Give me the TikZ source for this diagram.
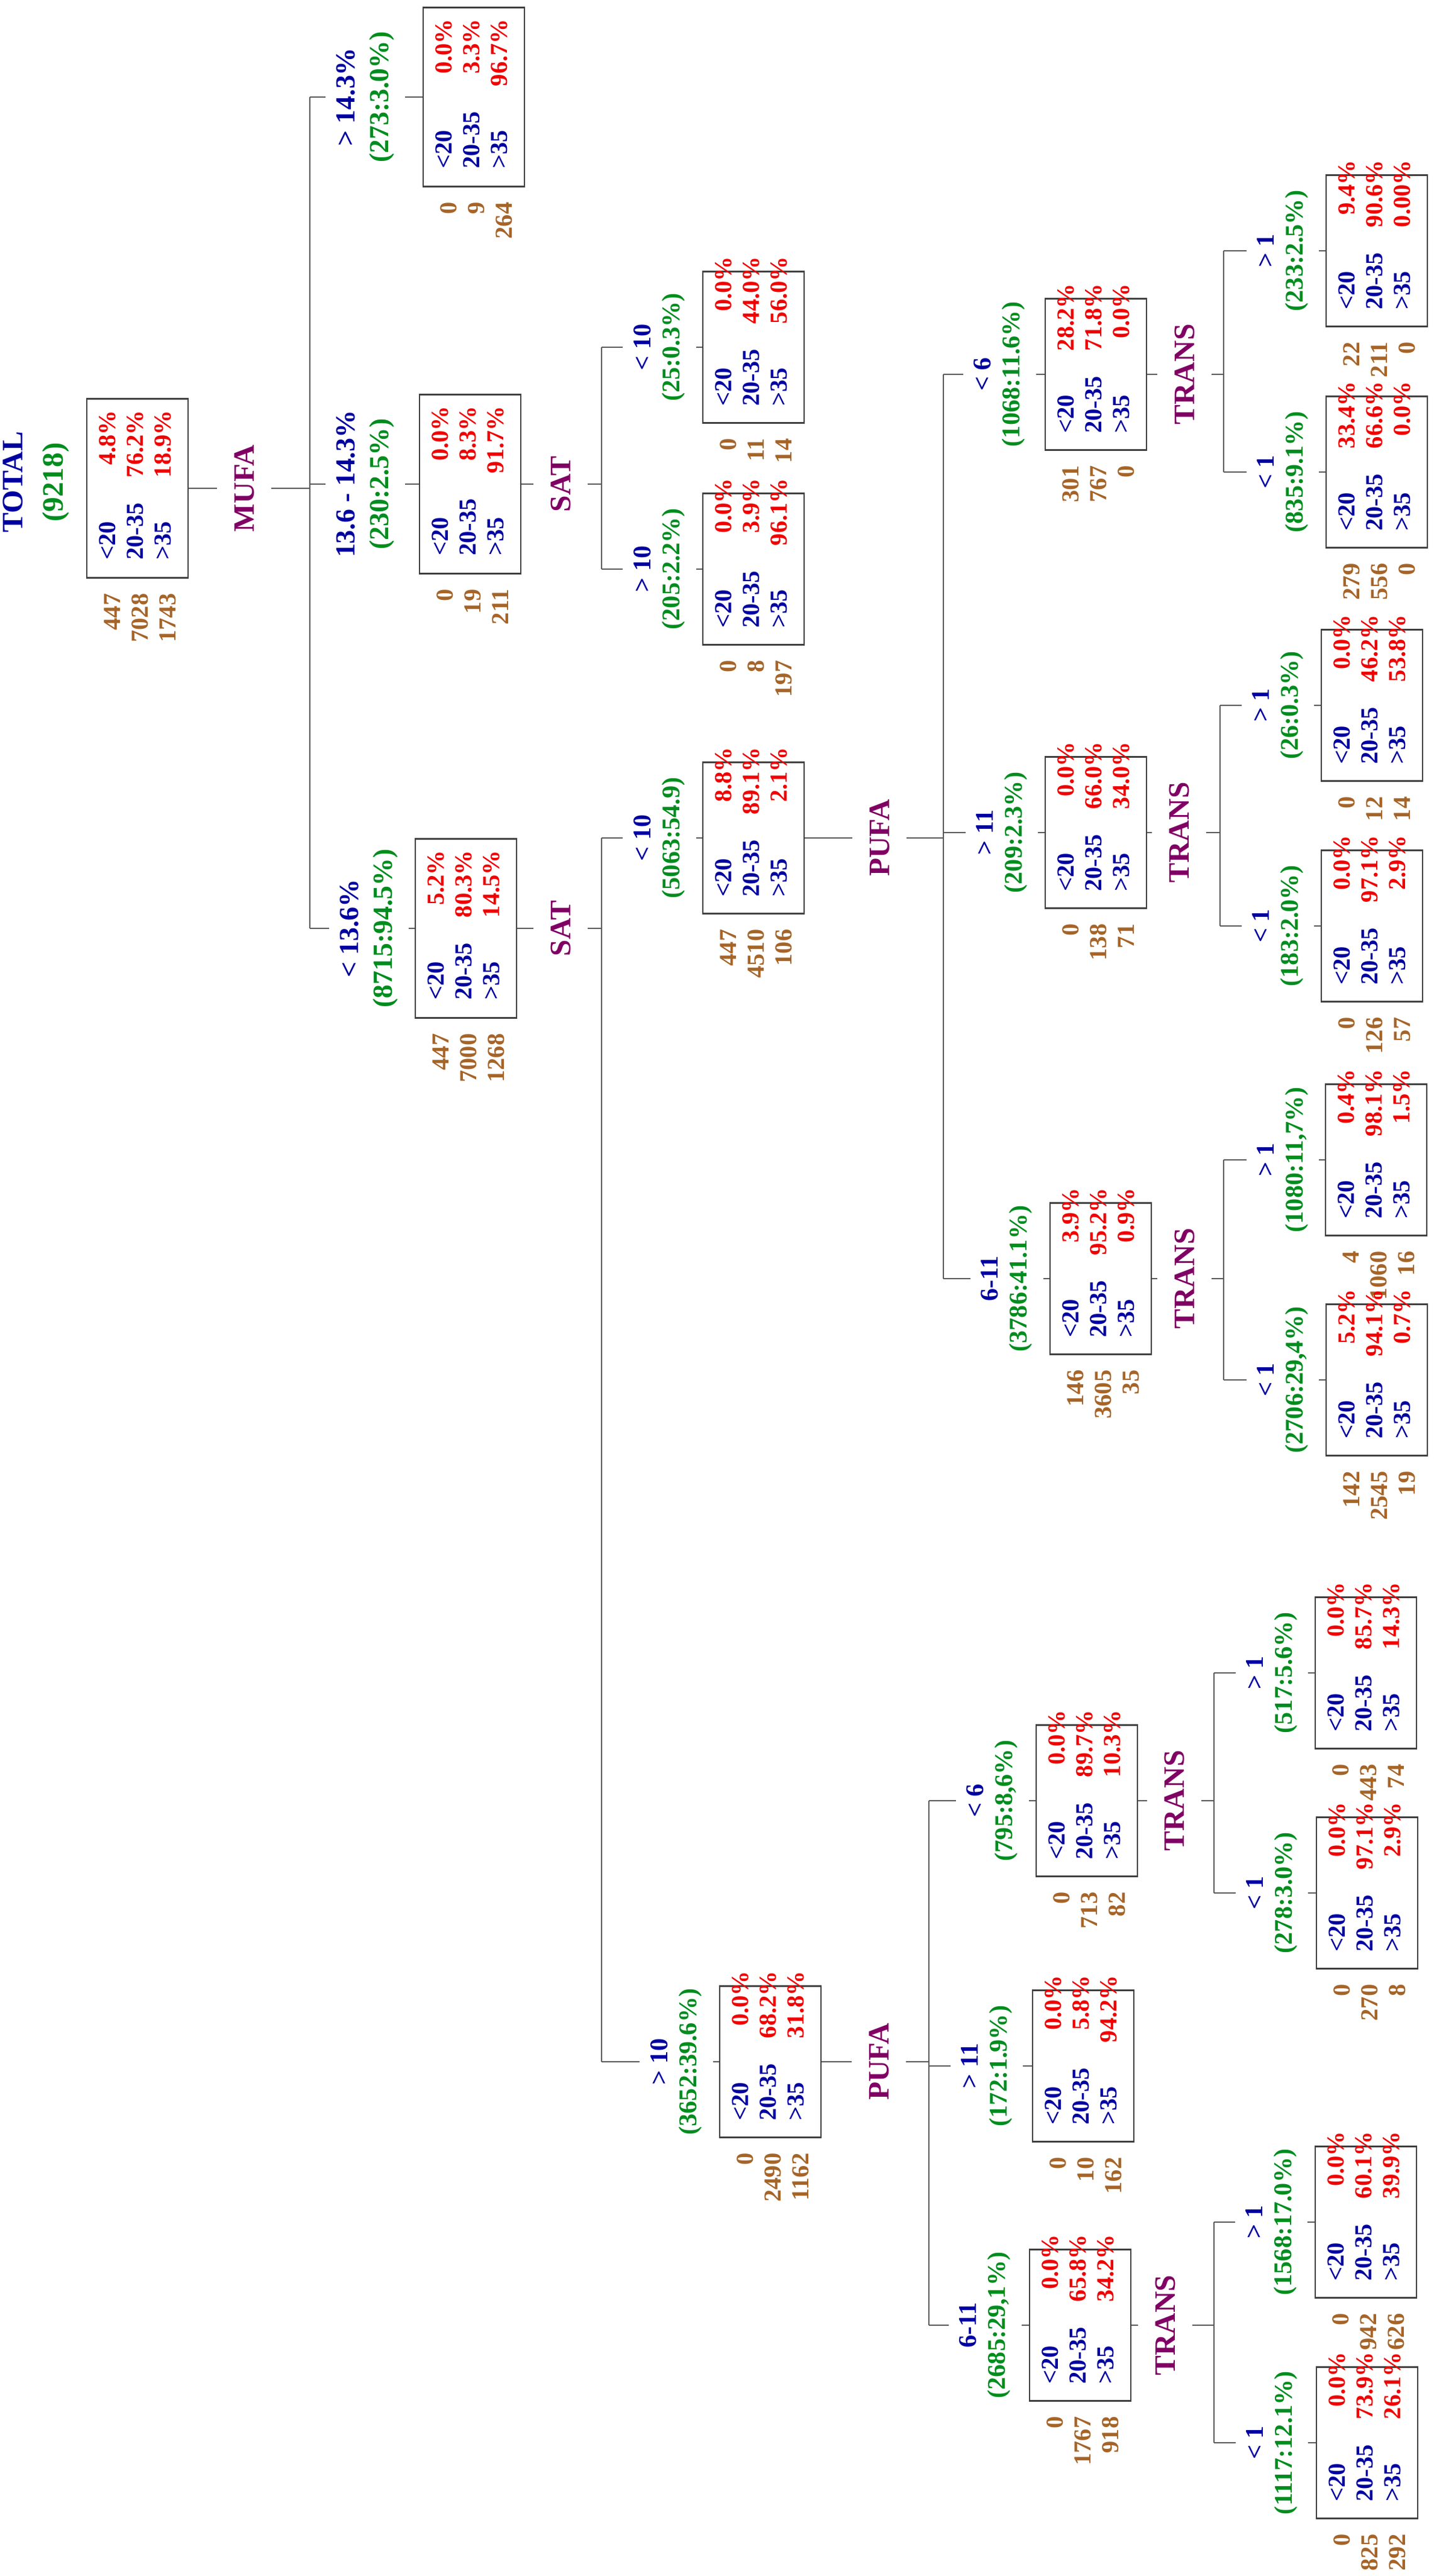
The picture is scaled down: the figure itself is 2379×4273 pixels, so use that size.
\documentclass[tikz,border=0pt]{standalone}
\usepackage{fontspec}
\setmainfont{Liberation Serif}
\usetikzlibrary{calc}
\definecolor{blu}{RGB}{0,0,160}
\definecolor{rd}{RGB}{240,0,0}
\definecolor{grn}{RGB}{0,140,30}
\definecolor{brn}{RGB}{165,100,40}
\definecolor{purp}{RGB}{128,0,100}
\newcommand\bxx[8]{\node[bx,#2] (#1) at (#3,#4) {\begin{tabular*}{#5}{@{\extracolsep{\fill}}lr@{}}\textcolor{blu}{<20} & \textcolor{rd}{#6}\\ \textcolor{blu}{20-35} & \textcolor{rd}{#7}\\ \textcolor{blu}{>35} & \textcolor{rd}{#8}\end{tabular*}};}
\newcommand\cnt[4]{\node[cn] (#1c) at ($(#1.west)+(4,24)$) {#2\\#3\\#4};}
\newcommand\lab[5]{\node[#2] (#1) at (#3) {\textcolor{blu}{#4}\\\textcolor{grn}{#5}};}
\tikzset{
 bx/.style={draw=black!75, line width=0.8pt, rotate=90, inner sep=0pt, minimum height=1.68cm, font=\bfseries\fontsize{11.5}{13.1}\selectfont},
 big/.style={minimum width=2.97cm}, sm/.style={minimum width=2.51cm},
 br/.style={rotate=90, align=center, inner sep=5pt, font=\bfseries\fontsize{12}{13.5}\selectfont},
 br1/.style={br, font=\bfseries\fontsize{13}{16}\selectfont},
 sp/.style={rotate=90, text=purp, inner sep=8pt, font=\bfseries\fontsize{14}{16}\selectfont},
 cn/.style={rotate=90, anchor=east, align=right, text=brn, inner sep=0pt, font=\bfseries\fontsize{11.5}{13.1}\selectfont},
 ln/.style={draw=black!65, line width=0.7pt}
}
\begin{document}
\begin{tikzpicture}[x=0.01cm,y=-0.01cm]
\useasboundingbox (0,0) rectangle (2379,4273);
% root
\node[rotate=90, align=center, font=\bfseries\fontsize{14}{19}\selectfont] (tot) at (60,800) {\textcolor{blu}{TOTAL}\\\textcolor{grn}{(9218)}};
\bxx{b0}{big}{228}{810}{2.37cm}{4.8\%}{76.2\%}{18.9\%} \cnt{b0}{447}{7028}{1743}
% level 1
\bxx{b1}{big}{786}{161}{2.37cm}{0.0\%}{3.3\%}{96.7\%} \cnt{b1}{0}{9}{264}
\bxx{b2}{big}{780}{803}{2.37cm}{0.0\%}{8.3\%}{91.7\%} \cnt{b2}{0}{19}{211}
\bxx{b3}{big}{773}{1540}{2.37cm}{5.2\%}{80.3\%}{14.5\%} \cnt{b3}{447}{7000}{1268}
\lab{l1}{br1}{606,161}{> 14.3\%}{(273:3.0\%)}
\lab{l2}{br1}{606,803}{13.6 - 14.3\%}{(230:2.5\%)}
\lab{l3}{br1}{612,1540}{< 13.6\%}{(8715:94.5\%)}
% level 2
\bxx{b4}{sm}{1250}{576}{1.95cm}{0.0\%}{44.0\%}{56.0\%} \cnt{b4}{0}{11}{14}
\bxx{b5}{sm}{1250}{944}{1.95cm}{0.0\%}{3.9\%}{96.1\%} \cnt{b5}{0}{8}{197}
\bxx{b6}{sm}{1250}{1390}{1.95cm}{8.8\%}{89.1\%}{2.1\%} \cnt{b6}{447}{4510}{106}
\bxx{b7}{sm}{1278}{3420}{1.95cm}{0.0\%}{68.2\%}{31.8\%} \cnt{b7}{0}{2490}{1162}
\lab{l4}{br}{1094,576}{< 10}{(25:0.3\%)}
\lab{l5}{br}{1094,944}{> 10}{(205:2.2\%)}
\lab{l6}{br}{1094,1390}{< 10}{(5063:54.9)}
\lab{l7}{br}{1122,3420}{> 10}{(3652:39.6\%)}
% level 3
\bxx{b8}{sm}{1818}{621}{1.95cm}{28.2\%}{71.8\%}{0.0\%} \cnt{b8}{301}{767}{0}
\bxx{b9}{sm}{1818}{1381}{1.95cm}{0.0\%}{66.0\%}{34.0\%} \cnt{b9}{0}{138}{71}
\bxx{b10}{sm}{1826}{2121}{1.95cm}{3.9\%}{95.2\%}{0.9\%} \cnt{b10}{146}{3605}{35}
\bxx{b17}{sm}{1803}{2987}{1.95cm}{0.0\%}{89.7\%}{10.3\%} \cnt{b17}{0}{713}{82}
\bxx{b18}{sm}{1797}{3427}{1.95cm}{0.0\%}{5.8\%}{94.2\%} \cnt{b18}{0}{10}{162}
\bxx{b19}{sm}{1792}{3857}{1.95cm}{0.0\%}{65.8\%}{34.2\%} \cnt{b19}{0}{1767}{918}
\lab{l8}{br}{1658,621}{< 6}{(1068:11.6\%)}
\lab{l9}{br}{1662,1381}{> 11}{(209:2.3\%)}
\lab{l10}{br}{1670,2121}{6-11}{(3786:41.1\%)}
\lab{l17}{br}{1646,2987}{< 6}{(795:8,6\%)}
\lab{l18}{br}{1637,3427}{> 11}{(172:1.9\%)}
\lab{l19}{br}{1634,3857}{6-11}{(2685:29,1\%)}
% level 4
\bxx{b11}{sm}{2284}{416}{1.95cm}{9.4\%}{90.6\%}{0.00\%} \cnt{b11}{22}{211}{0}
\bxx{b12}{sm}{2284}{783}{1.95cm}{33.4\%}{66.6\%}{0.0\%} \cnt{b12}{279}{556}{0}
\bxx{b13}{sm}{2276}{1170}{1.95cm}{0.0\%}{46.2\%}{53.8\%} \cnt{b13}{0}{12}{14}
\bxx{b14}{sm}{2276}{1536}{1.95cm}{0.0\%}{97.1\%}{2.9\%} \cnt{b14}{0}{126}{57}
\bxx{b15}{sm}{2283}{1924}{1.95cm}{0.4\%}{98.1\%}{1.5\%} \cnt{b15}{4}{1060}{16}
\bxx{b16}{sm}{2284}{2289}{1.95cm}{5.2\%}{94.1\%}{0.7\%} \cnt{b16}{142}{2545}{19}
\bxx{b20}{sm}{2266}{2775}{1.95cm}{0.0\%}{85.7\%}{14.3\%} \cnt{b20}{0}{443}{74}
\bxx{b21}{sm}{2268}{3140}{1.95cm}{0.0\%}{97.1\%}{2.9\%} \cnt{b21}{0}{270}{8}
\bxx{b22}{sm}{2266}{3686}{1.95cm}{0.0\%}{60.1\%}{39.9\%} \cnt{b22}{0}{942}{626}
\bxx{b23}{sm}{2268}{4052}{1.95cm}{0.0\%}{73.9\%}{26.1\%} \cnt{b23}{0}{825}{292}
\lab{l11}{br}{2128,416}{> 1}{(233:2.5\%)}
\lab{l12}{br}{2128,783}{< 1}{(835:9.1\%)}
\lab{l13}{br}{2120,1170}{> 1}{(26:0.3\%)}
\lab{l14}{br}{2120,1536}{< 1}{(183:2.0\%)}
\lab{l15}{br}{2128,1924}{> 1}{(1080:11,7\%)}
\lab{l16}{br}{2128,2289}{< 1}{(2706:29,4\%)}
\lab{l20}{br}{2110,2775}{> 1}{(517:5.6\%)}
\lab{l21}{br}{2110,3140}{< 1}{(278:3.0\%)}
\lab{l22}{br}{2109,3686}{> 1}{(1568:17.0\%)}
\lab{l23}{br}{2110,4052}{< 1}{(1117:12.1\%)}
% splits
\node[sp] (s0) at (405,810) {MUFA};
\node[sp] (s2) at (930,803) {SAT};
\node[sp] (s3) at (930,1540) {SAT};
\node[sp] (s6) at (1459,1390) {PUFA};
\node[sp] (s7) at (1458,3420) {PUFA};
\node[sp] (s8) at (1965,621) {TRANS};
\node[sp] (s9) at (1956,1381) {TRANS};
\node[sp] (s10) at (1965,2121) {TRANS};
\node[sp] (s17) at (1948,2987) {TRANS};
\node[sp] (s19) at (1933,3857) {TRANS};
\coordinate (v0) at (514,810);
\coordinate (v2) at (998,803);
\coordinate (v3) at (998,1540);
\coordinate (v6) at (1565,1390);
\coordinate (v7) at (1541,3420);
\coordinate (v8) at (2030,621);
\coordinate (v9) at (2024,1381);
\coordinate (v10) at (2030,2121);
\coordinate (v17) at (2014,2987);
\coordinate (v19) at (2014,3857);
% connectors
\foreach \p/\a/\b/\kids in {0/l1/l3/{1,2,3},2/l4/l5/{4,5},3/l6/l7/{6,7},6/l8/l10/{8,9,10},7/l17/l19/{17,18,19},8/l11/l12/{11,12},9/l13/l14/{13,14},10/l15/l16/{15,16},17/l20/l21/{20,21},19/l22/l23/{22,23}}{
  \draw[ln] (b\p.south) -- (s\p.north);
  \draw[ln] (s\p.south) -- (v\p);
  \draw[ln] (v\p |- \a.north) -- (v\p |- \b.north);
  \foreach \k in \kids {
    \draw[ln] (v\p |- l\k.north) -- (l\k.north);
    \draw[ln] (l\k.south) -- (b\k.north);
  }
}
\end{tikzpicture}
\end{document}
